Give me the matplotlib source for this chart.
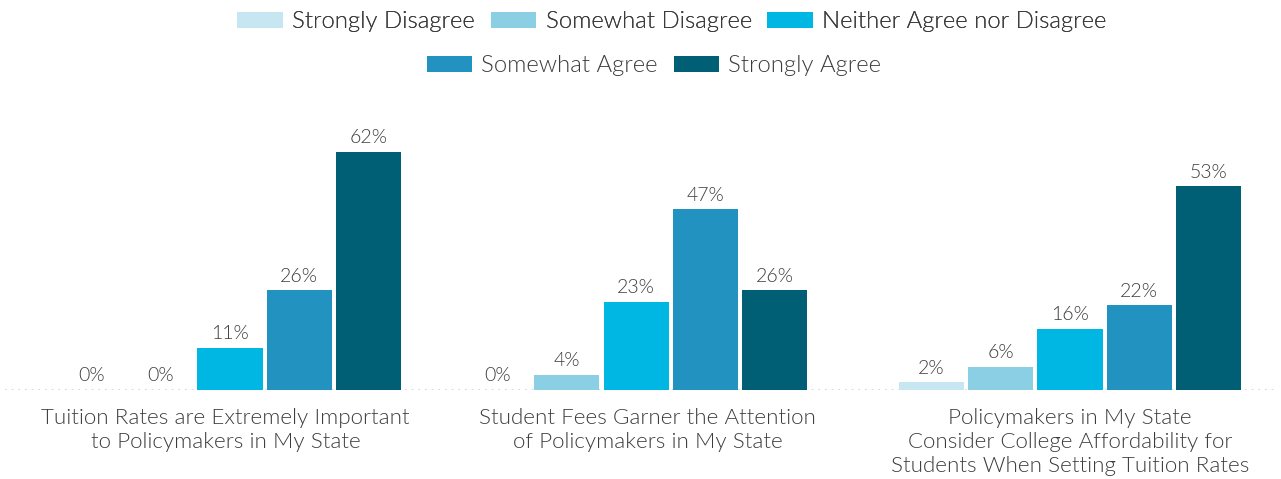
import matplotlib.pyplot as plt
import numpy as np

plt.rcParams['font.family'] = ['Lato', 'DejaVu Sans']
plt.rcParams['font.weight'] = 300

# data
categories = ['Tuition Rates are Extremely Important\nto Policymakers in My State',
              'Student Fees Garner the Attention\nof Policymakers in My State',
              'Policymakers in My State\nConsider College Affordability for\nStudents When Setting Tuition Rates']
responses = ['Strongly Disagree', 'Somewhat Disagree', 'Neither Agree nor Disagree',
             'Somewhat Agree', 'Strongly Agree']
strongly_disagree = [0, 0, 2]
somewhat_disagree = [0, 4, 6]
neither = [11, 23, 16]
somewhat_agree = [26, 47, 22]
strongly_agree = [62, 26, 53]
series = [strongly_disagree, somewhat_disagree, neither, somewhat_agree, strongly_agree]

colors = ['#c6e7f1', '#8bcfe4', '#00b6e3', '#2292c0', '#005e75']
text_col = '#3c3c3c'

# layout
group_pos = np.array([0, 0.967, 2.0])
label_pos = [-0.01, 0.995, 2.0]
step = 0.165
width = 0.155

fig = plt.figure(figsize=(12.81, 4.79), dpi=100)
ax = fig.add_axes([0, 89 / 479, 1, 269 / 479])

bars = []
for j, vals in enumerate(series):
    x = group_pos + (j - 2) * step
    b = ax.bar(x, vals, width, color=colors[j], label=responses[j])
    bars.append(b)
    for xi, v in zip(x, vals):
        ax.annotate('%d%%' % v, (xi, v), xytext=(0, 4), textcoords='offset points',
                    ha='center', va='bottom', fontsize=14, color=text_col)

ax.set_xlim(-230 / 420, (1281 - 230) / 420)
ax.set_ylim(0, 70)
ax.axhline(0, xmin=5 / 1281, xmax=1275 / 1281, color='#d0d0d0', lw=1.2,
           linestyle=(0, (1, 3)), zorder=0)

ax.set_xticks(label_pos)
ax.set_xticklabels(categories, fontsize=16.1, color=text_col, linespacing=1.26)
ax.tick_params(axis='x', length=0, pad=13)
ax.set_yticks([])
for s in ax.spines.values():
    s.set_visible(False)

leg_kw = dict(loc='center', frameon=False, fontsize=17.2, handlelength=1.9,
              handleheight=0.65, columnspacing=0.65, handletextpad=0.4,
              labelcolor=text_col)
leg1 = fig.legend(bars[:3], responses[:3], bbox_to_anchor=(672 / 1281, 1 - 22 / 479),
                  ncol=3, **leg_kw)
fig.add_artist(leg1)
fig.legend(bars[3:], responses[3:], bbox_to_anchor=(654 / 1281, 1 - 66 / 479),
           ncol=2, **leg_kw)

fig.savefig('out.png', dpi=100)
